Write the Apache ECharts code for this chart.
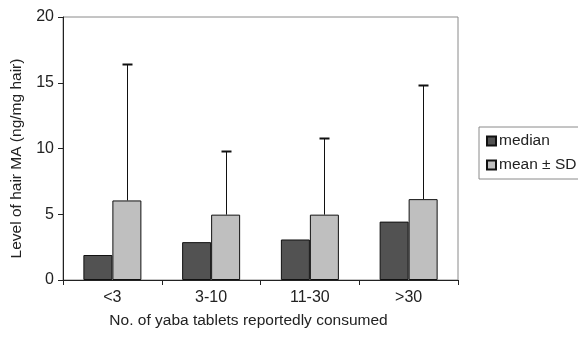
<!DOCTYPE html>
<html><head><meta charset="utf-8">
<script src="https://cdn.jsdelivr.net/npm/echarts@6/dist/echarts.min.js"></script>
<style>html,body{margin:0;padding:0;background:#fff}#c{width:578px;height:338px}</style>
</head><body><div id="c"></div>
<script>
const categories = ['<3', '3-10', '11-30', '>30'];
const medianValues = [1.9, 2.88, 3.08, 4.44];
const meanValues = [6.05, 4.97, 4.97, 6.15];
const sdValues = [10.35, 4.85, 5.85, 8.7];
const yTicks = [0, 5, 10, 15, 20];

const chart = echarts.init(document.getElementById('c'));
const BW = 29;
chart.setOption({
  animation: false,
  textStyle: { fontFamily: 'Liberation Sans, Arial, sans-serif', color: '#222' },
  grid: { left: 63, top: 17, right: 120, bottom: 58, show: true, borderColor: '#8a8a8a', borderWidth: 1 },
  legend: {
    orient: 'vertical', left: 479, top: 127,
    data: [{ name: 'median', icon: 'rect' }, { name: 'mean ± SD', icon: 'rect' }],
    itemWidth: 9, itemHeight: 9, itemGap: 8,
    padding: [6, 10, 6, 7],
    borderColor: '#8a8a8a', borderWidth: 1,
    textStyle: { fontSize: 15.5, color: '#222', padding: [0, 0, 0, -2] }
  },
  xAxis: {
    type: 'category', data: categories,
    axisLine: { lineStyle: { color: '#222', width: 1 } },
    axisTick: { show: true, length: 5, lineStyle: { color: '#222' } },
    axisLabel: { fontSize: 16, color: '#222', margin: 10 },
    name: 'No. of yaba tablets reportedly consumed', nameLocation: 'middle', nameGap: 33,
    nameTextStyle: { fontSize: 15.5, color: '#222', padding: [0, 24, 0, 0] }
  },
  yAxis: {
    type: 'value', min: yTicks[0], max: yTicks[yTicks.length - 1], interval: 5,
    splitLine: { show: false },
    axisLine: { show: true, lineStyle: { color: '#222', width: 1 } },
    axisTick: { show: true, length: 5, lineStyle: { color: '#222' } },
    axisLabel: { fontSize: 16, color: '#222', margin: 9 },
    name: 'Level of hair MA (ng/mg hair)', nameLocation: 'middle', nameGap: 38,
    nameTextStyle: { fontSize: 15.5, color: '#222', padding: [0, 20, 0, 0] }
  },
  series: [
    { name: 'median', type: 'bar', data: medianValues, barWidth: BW, barGap: '0%',
      itemStyle: { color: '#525252', borderColor: '#111', borderWidth: 1 } },
    { name: 'mean ± SD', type: 'bar', data: meanValues, barWidth: BW,
      itemStyle: { color: '#bfbfbf', borderColor: '#111', borderWidth: 1 } },
    { name: 'err', type: 'custom', z: 5,
      data: categories.map((c, i) => [i, meanValues[i], meanValues[i] + sdValues[i]]),
      renderItem: function (params, api) {
        const base = api.coord([api.value(0), api.value(1)]);
        const top = api.coord([api.value(0), api.value(2)]);
        const x = Math.round(base[0] + BW / 2) + 0.5;
        const yb = base[1], yt = Math.round(top[1]) + 0.5;
        return { type: 'group', children: [
          { type: 'line', shape: { x1: x, y1: yb, x2: x, y2: yt }, style: { stroke: '#111', lineWidth: 1 } },
          { type: 'line', shape: { x1: x - 5, y1: yt, x2: x + 5, y2: yt }, style: { stroke: '#111', lineWidth: 2 } }
        ]};
      }
    }
  ]
});
</script></body></html>
